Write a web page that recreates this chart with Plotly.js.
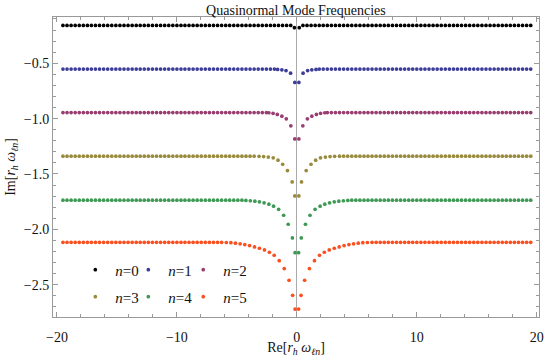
<!DOCTYPE html>
<html>
<head>
<meta charset="utf-8">
<script src="https://cdn.plot.ly/plotly-3.0.1.min.js"></script>
<style>
html, body { margin: 0; padding: 0; background: #fff; }
#graph { width: 545px; height: 357px; }
</style>
</head>
<body>
<div id="graph"></div>
<script>
var reGrid = [0.17, 0.51, 0.85, 1.19, 1.53, 1.87, 2.20, 2.54, 2.88, 3.22, 3.56, 3.90,
  4.24, 4.58, 4.92, 5.26, 5.60, 5.93, 6.27, 6.61, 6.95, 7.29, 7.63, 7.97, 8.31, 8.65,
  8.99, 9.33, 9.66, 10.00, 10.34, 10.68, 11.02, 11.36, 11.70, 12.04, 12.38, 12.72,
  13.06, 13.39, 13.73, 14.07, 14.41, 14.75, 15.09, 15.43, 15.77, 16.11, 16.45, 16.79,
  17.13, 17.46, 17.80, 18.14, 18.48, 18.82, 19.16, 19.50];

var modeNames = ['<i>n</i>=0', '<i>n</i>=1', '<i>n</i>=2', '<i>n</i>=3', '<i>n</i>=4', '<i>n</i>=5'];
var modeColors = ['#000000', '#3d3d99', '#993d71', '#998b3d', '#3d9954', '#fb4f1f'];
// flat level far from the origin
var modeLevels = [-0.158, -0.552, -0.945, -1.339, -1.737, -2.117];

// points in the dip near Re = 0
var dipRe0 = [0.2];
var dipIm0 = [-0.178];
var dipRe1 = [0.17, 0.52, 0.9, 1.25, 1.6];
var dipIm1 = [-0.673, -0.589, -0.566, -0.559, -0.556];
var dipRe2 = [0.17, 0.5, 0.88, 1.25, 1.63, 1.98, 2.33];
var dipIm2 = [-1.183, -1.065, -1.002, -0.978, -0.962, -0.952, -0.947];
var dipRe3 = [0.17, 0.39, 0.78, 1.18, 1.57, 1.97, 2.38, 2.77, 3.15];
var dipIm3 = [-1.698, -1.572, -1.469, -1.412, -1.375, -1.354, -1.347, -1.343, -1.341];
var dipRe4 = [0.15, 0.37, 0.72, 1.1, 1.52, 1.94, 2.33, 2.73, 3.12, 3.5, 3.88, 4.25];
var dipIm4 = [-2.211, -2.078, -1.954, -1.873, -1.819, -1.791, -1.773, -1.761, -1.752, -1.746, -1.742, -1.739];
var dipRe5 = [0.15, 0.35, 0.65, 1.05, 1.47, 1.89, 2.29, 2.7, 3.12, 3.53, 3.94, 4.34, 4.73, 5.12, 5.5, 5.88];
var dipIm5 = [-2.72, -2.596, -2.46, -2.355, -2.283, -2.234, -2.207, -2.186, -2.171, -2.159, -2.147, -2.138, -2.131, -2.125, -2.121, -2.119];

var dipRe = [dipRe0, dipRe1, dipRe2, dipRe3, dipRe4, dipRe5];
var dipIm = [dipIm0, dipIm1, dipIm2, dipIm3, dipIm4, dipIm5];

var serif = 'Liberation Serif, Times New Roman, serif';

function buildMode(re0, im0, level) {
    var re = re0.slice(), im = im0.slice();
    var last = re0[re0.length - 1];
    reGrid.forEach(function (x) {
        if (x > last + 0.2) { re.push(x); im.push(level); }
    });
    var xs = [], ys = [];
    for (var i = re.length - 1; i >= 0; i--) { xs.push(-re[i]); ys.push(im[i]); }
    for (var j = 0; j < re.length; j++) { xs.push(re[j]); ys.push(im[j]); }
    return [xs, ys];
}

// one legend box per mode, laid out as a 3x2 grid in the lower left
var legendX = [0.0459, 0.155, 0.268];
var legendY = [0.157, 0.067];
var legendIds = ['legend', 'legend2', 'legend3', 'legend4', 'legend5', 'legend6'];

var data = [];
for (var n = 0; n < 6; n++) {
    var pts = buildMode(dipRe[n], dipIm[n], modeLevels[n]);
    data.push({
        x: pts[0],
        y: pts[1],
        name: modeNames[n],
        type: 'scatter',
        mode: 'markers',
        marker: {color: modeColors[n], size: 3.7},
        legend: legendIds[n],
        hoverinfo: 'x+y'
    });
}

var frameColor = '#999';

var layout = {
    width: 545,
    height: 357,
    margin: {l: 53, r: 6, t: 17, b: 40},
    paper_bgcolor: '#fff',
    plot_bgcolor: '#fff',
    title: {
        text: 'Quasinormal Mode Frequencies',
        font: {family: serif, size: 14, color: '#111'},
        x: 0.543, xanchor: 'center',
        y: 0.972, yanchor: 'middle', yref: 'container'
    },
    xaxis: {
        range: [-20.33, 20.19],
        tick0: 0, dtick: 10,
        ticks: 'inside', ticklen: 5, tickwidth: 1, tickcolor: frameColor,
        minor: {dtick: 2, ticks: 'inside', ticklen: 3, tickcolor: frameColor, showgrid: false},
        showline: true, linecolor: frameColor, linewidth: 1, mirror: 'ticks',
        showgrid: false,
        zeroline: true, zerolinecolor: '#aaa', zerolinewidth: 1,
        tickfont: {family: serif, size: 14, color: '#111'},
        ticklabelstandoff: 7,
        title: {
            text: 'Re[<i>r</i><sub><i>h</i></sub> <i>ω</i><sub><i>ℓn</i></sub>]',
            font: {family: serif, size: 14, color: '#111'},
            standoff: 1
        }
    },
    yaxis: {
        range: [-2.792, -0.082],
        tick0: -0.5, dtick: 0.5, tickformat: '.1f',
        ticks: 'inside', ticklen: 5, tickwidth: 1, tickcolor: frameColor,
        minor: {dtick: 0.1, ticks: 'inside', ticklen: 3, tickcolor: frameColor, showgrid: false},
        showline: true, linecolor: frameColor, linewidth: 1, mirror: 'ticks',
        showgrid: false, zeroline: false,
        tickfont: {family: serif, size: 14, color: '#111'},
        title: {
            text: 'Im[<i>r</i><sub><i>h</i></sub> <i>ω</i><sub><i>ℓn</i></sub>]',
            font: {family: serif, size: 14, color: '#111'},
            standoff: 4
        }
    },
    showlegend: true
};

for (var k = 0; k < 6; k++) {
    layout[legendIds[k]] = {
        orientation: 'h',
        xanchor: 'left',
        yanchor: 'middle',
        x: legendX[k % 3],
        y: legendY[Math.floor(k / 3)],
        bgcolor: 'rgba(0,0,0,0)',
        borderwidth: 0,
        font: {family: serif, size: 15, color: '#111'}
    };
}

Plotly.newPlot('graph', data, layout, {displayModeBar: false, staticPlot: true});
</script>
</body>
</html>
